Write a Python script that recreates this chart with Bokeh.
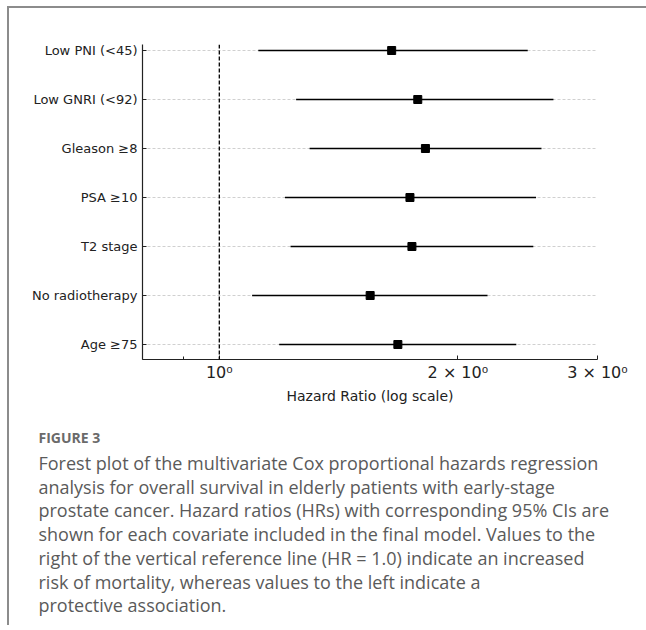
from bokeh.plotting import figure
from bokeh.models import Range1d, FixedTicker, Span, ColumnDataSource, Title
from bokeh.embed import file_html
from bokeh.resources import INLINE

# ---- data ----
covariates = ["Low PNI (<45)", "Low GNRI (<92)", "Gleason \u22658", "PSA \u226510",
              "T2 stage", "No radiotherapy", "Age \u226575"]
hazard_ratio = [1.65, 1.78, 1.82, 1.74, 1.75, 1.55, 1.68]
ci_lower = [1.12, 1.25, 1.30, 1.21, 1.23, 1.10, 1.19]
ci_upper = [2.45, 2.64, 2.55, 2.51, 2.49, 2.18, 2.37]
x_ticks = [1, 2, 3]
x_tick_labels = ["10\u2070", "2 \u00d7 10\u2070", "3 \u00d7 10\u2070"]
x_minor_ticks = [0.8, 0.9]
reference_hr = 1.0
x_limits = (0.8, 3.0005)

caption_title = "FIGURE 3"
caption_lines = [
    "Forest plot of the multivariate Cox proportional hazards regression",
    "analysis for overall survival in elderly patients with early-stage",
    "prostate cancer. Hazard ratios (HRs) with corresponding 95% CIs are",
    "shown for each covariate included in the final model. Values to the",
    "right of the vertical reference line (HR = 1.0) indicate an increased",
    "risk of mortality, whereas values to the left indicate a",
    "protective association.",
]

n = len(covariates)
ypos = [n - 1 - i for i in range(n)]
src = ColumnDataSource(dict(y=ypos, hr=hazard_ratio, lo=ci_lower, hi=ci_upper))

p = figure(frame_width=455, frame_height=315, x_axis_type="log",
           x_range=Range1d(*x_limits),
           y_range=Range1d(-15 / 49, (n - 1) + 6 / 49),
           output_backend="svg", toolbar_location=None,
           min_border_left=133, min_border_right=49,
           min_border_top=36, min_border_bottom=266,
           styles={"margin-left": "7px", "margin-top": "6px",
                   "border-left": "2px solid #8c8c8c", "border-top": "2px solid #8c8c8c"})
p.outline_line_color = None

p.segment(x0="lo", y0="y", x1="hi", y1="y", source=src,
          line_color="black", line_width=1.7)
p.scatter(x="hr", y="y", source=src, marker="square", size=8,
          fill_color="black", line_color="black")

p.add_layout(Span(location=reference_hr, dimension="height", line_color="black",
                  line_dash="4 2", line_width=1.3))

# x axis
xa = p.xaxis[0]
xa.ticker = FixedTicker(ticks=x_ticks, minor_ticks=x_minor_ticks)
xa.major_label_overrides = {t: lab for t, lab in zip(x_ticks, x_tick_labels)}
xa.major_tick_in = 4
xa.major_tick_out = 0
xa.minor_tick_in = 3
xa.minor_tick_out = 0
xa.major_label_standoff = 3
xa.major_label_text_font = "DejaVu Sans"
xa.major_label_text_font_size = "16px"
xa.major_label_text_color = "#222222"
xa.axis_label = "Hazard Ratio (log scale)"
xa.axis_label_text_font = "DejaVu Sans"
xa.axis_label_text_font_size = "14px"
xa.axis_label_text_font_style = "normal"
xa.axis_label_text_color = "#222222"
xa.axis_label_standoff = 3
xa.axis_line_color = "#222222"
xa.axis_line_width = 1.2
xa.major_tick_line_color = "#222222"
xa.minor_tick_line_color = "#222222"

# y axis
ya = p.yaxis[0]
ya.ticker = FixedTicker(ticks=ypos, minor_ticks=[])
ya.major_label_overrides = {y: c for y, c in zip(ypos, covariates)}
ya.major_tick_in = 4
ya.major_tick_out = 0
ya.minor_tick_line_color = None
ya.major_label_standoff = 5
ya.major_label_text_font = "DejaVu Sans"
ya.major_label_text_font_size = "13px"
ya.major_label_text_color = "#222222"
ya.axis_line_color = "#222222"
ya.axis_line_width = 1.2
ya.major_tick_line_color = "#222222"

p.xgrid.visible = False
p.ygrid.grid_line_color = "#c4c4c4"
p.ygrid.grid_line_dash = "3 2"
p.ygrid.grid_line_width = 0.8

# caption as titles stacked below the x axis
p.add_layout(Title(text=" ", align="left", offset=0, standoff=14,
                   text_font_size="2px"), "below")
p.add_layout(Title(text=caption_title, align="left", offset=-104, standoff=3,
                   text_font="Open Sans", text_font_size="14px", text_font_style="bold",
                   text_color="#6a6a6a"), "below")
p.add_layout(Title(text="\n".join(caption_lines), align="left", offset=-104, standoff=0,
                   text_font="Open Sans", text_font_size="18px", text_line_height=0.99,
                   text_font_style="normal", text_color="#5a5a5a"), "below")

open("out.html", "w").write(file_html(p, INLINE))
